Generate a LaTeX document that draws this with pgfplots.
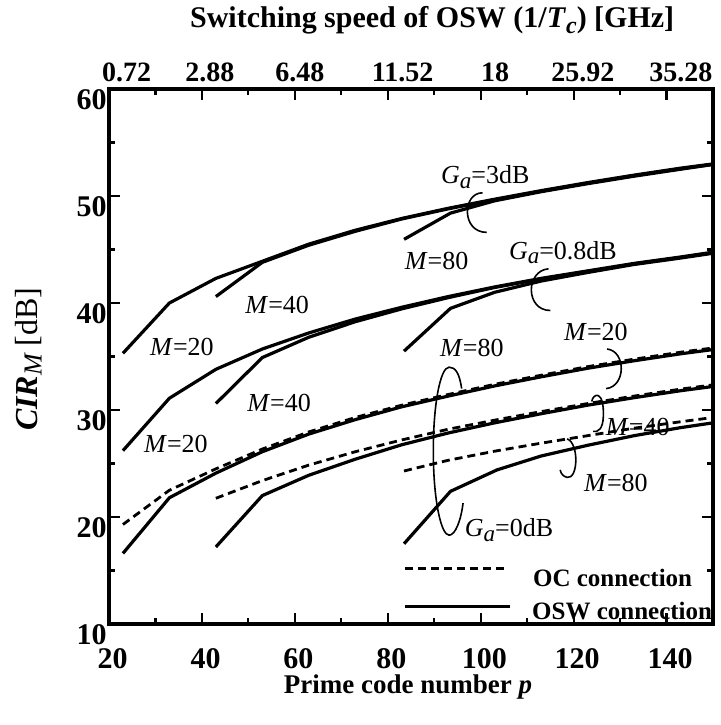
\documentclass[border=0pt]{standalone}
\usepackage{fontspec}
\setmainfont{Liberation Serif}
\usepackage{pgfplots}
\pgfplotsset{compat=1.18}
\newcommand{\ann}{\fontsize{13}{13}\selectfont}
\newcommand{\Ga}{\textit{G}\raisebox{-0.4ex}{\fontsize{11.5}{11.5}\selectfont\textit{a}}}
\begin{document}
\begin{tikzpicture}
\begin{axis}[
  name=main,
  scale only axis, width=302pt, height=267.5pt,
  xmin=20, xmax=150, ymin=10, ymax=60,
  xtick={20,40,...,140}, minor xtick={30,50,...,150},
  ytick={10,20,...,60}, minor ytick={15,25,...,55},
  tick align=inside,
  major tick length=5.5pt, minor tick length=3pt,
  axis line style={line width=1.8pt},
  tick style={line width=1.1pt, black},
  /pgf/number format/assume math mode=true,
  xticklabel style={font=\fontsize{15}{15}\selectfont\bfseries, inner sep=0pt, yshift=-12pt, xshift=1.8pt},
  yticklabel style={font=\fontsize{15}{15}\selectfont\bfseries, inner sep=1pt, yshift=-5.5pt},
  xlabel={\textbf{Prime code number \textit{p}}},
  xlabel style={font=\fontsize{13.5}{13.5}\selectfont, at={(axis description cs:0.495,-0.129)}, anchor=base},
  ylabel={{\bfseries\itshape CIR}\raisebox{-0.3ex}{\fontsize{13}{13}\selectfont\itshape M} [dB]},
  ylabel style={font=\fontsize{16}{16}\selectfont, at={(axis description cs:-0.119,0.495)}, anchor=base},
  clip=false,
]
% ---- G_a = 3 dB (OSW) ----
\addplot[black, line width=1.6pt] coordinates {(23,35.3) (33,40.0) (43,42.3) (53,43.9) (63,45.5) (73,46.8) (83,47.9) (93,48.85) (103,49.7) (113,50.5) (123,51.25) (133,51.95) (143,52.6) (150,53.0)};
\addplot[black, line width=1.6pt] coordinates {(43,40.6) (53,43.8) (63,45.4) (73,46.7) (83,47.85) (93,48.8) (103,49.65) (113,50.45) (123,51.2) (133,51.9) (143,52.55) (150,52.95)};
\addplot[black, line width=1.6pt] coordinates {(83.5,45.95) (93.5,48.4) (103,49.55) (113,50.4) (123,51.15) (133,51.85) (143,52.5) (150,52.95)};
% ---- G_a = 0.8 dB (OSW) ----
\addplot[black, line width=1.6pt] coordinates {(23,26.2) (33,31.1) (43,33.8) (53,35.7) (63,37.2) (73,38.5) (83,39.6) (93,40.6) (103,41.5) (113,42.3) (123,43.0) (133,43.7) (143,44.3) (150,44.75)};
\addplot[black, line width=1.6pt] coordinates {(43,30.6) (53,34.9) (63,36.8) (73,38.25) (83,39.45) (93,40.5) (103,41.45) (113,42.25) (123,42.95) (133,43.65) (143,44.25) (150,44.7)};
\addplot[black, line width=1.6pt] coordinates {(83.5,35.5) (93.5,39.5) (103,41.0) (113,42.05) (123,42.85) (133,43.6) (143,44.2) (150,44.65)};
% ---- G_a = 0 dB ----
\addplot[black, line width=1.6pt] coordinates {(23,16.6) (33,21.8) (43,24.1) (53,26.1) (63,27.75) (73,29.1) (83,30.3) (93,31.3) (103,32.25) (113,33.1) (123,33.9) (133,34.6) (143,35.25) (150,35.65)};
\addplot[black, line width=1.4pt, dash pattern=on 4pt off 2.5pt] coordinates {(23,19.3) (33,22.5) (43,24.5) (53,26.35) (63,27.95) (73,29.3) (83,30.45) (93,31.45) (103,32.4) (113,33.25) (123,34.05) (133,34.75) (143,35.4) (150,35.8)};
\addplot[black, line width=1.6pt] coordinates {(43,17.2) (53,22.0) (63,23.9) (73,25.4) (83,26.75) (93,27.85) (103,28.8) (113,29.65) (123,30.45) (133,31.15) (143,31.8) (150,32.2)};
\addplot[black, line width=1.4pt, dash pattern=on 4pt off 2.5pt] coordinates {(43,21.75) (53,23.4) (63,24.85) (73,26.1) (83,27.2) (93,28.2) (103,29.05) (113,29.85) (123,30.6) (133,31.3) (143,31.95) (150,32.35)};
\addplot[black, line width=1.6pt] coordinates {(83.5,17.5) (93.5,22.4) (103.5,24.4) (113,25.7) (123,26.7) (133,27.6) (143,28.35) (150,28.8)};
\addplot[black, line width=1.4pt, dash pattern=on 4pt off 2.5pt] coordinates {(83.5,24.3) (93,25.3) (103,26.15) (113,26.9) (123,27.6) (133,28.3) (143,28.9) (150,29.3)};
% ---- legend samples ----
\addplot[black, line width=1.4pt, dash pattern=on 4pt off 2.5pt] coordinates {(83.7,15.2) (106.0,15.2)};
\addplot[black, line width=1.6pt] coordinates {(83.7,11.6) (106.3,11.6)};
\node[anchor=base west, inner sep=0pt, font=\fontsize{12.5}{12.5}\selectfont\bfseries] at (axis cs:111.2,13.55) {OC connection};
\node[anchor=base west, inner sep=0pt, font=\fontsize{12.5}{12.5}\selectfont\bfseries] at (axis cs:111.0,10.4) {OSW connection};
% ---- annotations ----
\node[font=\ann] at (axis cs:101,51.8) {\Ga=3dB};
\node[font=\ann] at (axis cs:90.5,43.9) {\textit{M}=80};
\node[font=\ann] at (axis cs:56.2,39.8) {\textit{M}=40};
\node[font=\ann] at (axis cs:35.7,35.9) {\textit{M}=20};
\node[font=\ann] at (axis cs:117.7,44.7) {\Ga=0.8dB};
\node[font=\ann] at (axis cs:98.1,35.8) {\textit{M}=80};
\node[font=\ann] at (axis cs:56.6,30.7) {\textit{M}=40};
\node[font=\ann] at (axis cs:34.4,26.8) {\textit{M}=20};
\node[font=\ann] at (axis cs:124.8,37.3) {\textit{M}=20};
\node[font=\ann] at (axis cs:133.8,28.45) {\textit{M}=40};
\node[font=\ann] at (axis cs:129.1,23.2) {\textit{M}=80};
\node[font=\ann] at (axis cs:106.1,18.8) {\Ga=0dB};
% loops
\draw[line width=0.8pt] (axis cs:100.4,50.3) .. controls (axis cs:96.0,50.3) and (axis cs:95.8,46.6) .. (axis cs:101.3,46.6);
\draw[line width=0.8pt] (axis cs:114.6,43.2) .. controls (axis cs:109.6,43.0) and (axis cs:109.6,39.3) .. (axis cs:115.0,39.3);
\draw[line width=0.8pt] (axis cs:127.2,35.7) .. controls (axis cs:131.3,35.5) and (axis cs:131.3,32.2) .. (axis cs:127.0,32.0);
\draw[line width=0.8pt] (axis cs:123.9,30.8) .. controls (axis cs:124.2,31.6) and (axis cs:126.6,31.9) .. (axis cs:126.4,29.4) .. controls (axis cs:126.3,28.2) and (axis cs:125.2,27.9) .. (axis cs:124.2,28.0);
\draw[line width=0.8pt] (axis cs:118.6,27.3) .. controls (axis cs:121.2,26.9) and (axis cs:121.0,23.5) .. (axis cs:118.6,23.7) .. controls (axis cs:117.8,23.8) and (axis cs:117.3,24.0) .. (axis cs:117.1,24.4);
\draw[line width=0.8pt] (axis cs:95.9,32.0) .. controls (axis cs:95.4,33.5) and (axis cs:94.5,34.0) .. (axis cs:93.2,34.0)
  .. controls (axis cs:91.3,34.0) and (axis cs:89.8,30.5) .. (axis cs:89.8,26.2)
  .. controls (axis cs:89.8,21.5) and (axis cs:91.5,18.3) .. (axis cs:93.2,18.3)
  .. controls (axis cs:94.6,18.3) and (axis cs:95.8,19.8) .. (axis cs:96.2,21.3);
\end{axis}
\begin{axis}[
  scale only axis, width=302pt, height=267.5pt,
  xmin=20, xmax=150, ymin=10, ymax=60,
  axis x line*=top, axis y line=none,
  x axis line style={draw=none},
  xtick={23.8,41.7,61.1,83.2,103.1,122.0,143.1},
  xticklabels={0.72,2.88,6.48,11.52,18,25.92,35.28},
  major tick length=0pt,
  xticklabel style={font=\fontsize{14}{14}\selectfont\bfseries, inner sep=0pt, yshift=3.5pt},
  xlabel={\textbf{Switching speed of OSW (1/\textit{T}\raisebox{-0.4ex}{\fontsize{12}{12}\selectfont\textit{c}}) [GHz]}},
  xlabel style={font=\fontsize{15}{15}\selectfont, at={(axis description cs:0.535,1.114)}, anchor=base},
]
\end{axis}
\pgfresetboundingbox
\path ([shift={(-54.5pt,-50.5pt)}]main.south west) rectangle ([shift={(3.5pt,44.5pt)}]main.north east);
\end{tikzpicture}
\end{document}
